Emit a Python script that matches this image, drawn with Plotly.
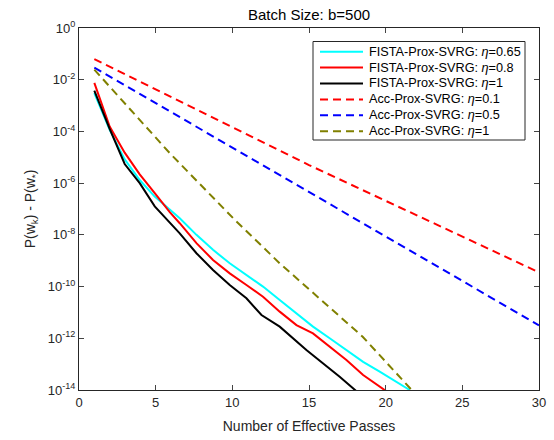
import plotly.graph_objects as go

# FISTA-Prox-SVRG (solid), log10 of P(w_k)-P(w*)
fista065_x = [1, 2, 2.98, 3.96, 4.94, 5.92, 6.57, 7.66, 8.74, 9.83, 10.92, 12.0, 13.09, 14.18, 15.26, 16.35, 17.44, 18.53, 19.61, 20.70, 21.57]
fista065_y = [-2.52, -3.94, -5.08, -5.88, -6.52, -7.03, -7.36, -8.0, -8.58, -9.10, -9.55, -10.0, -10.52, -11.03, -11.55, -12.0, -12.45, -12.91, -13.29, -13.68, -14.0]

fista08_x = [1, 2, 2.98, 3.96, 4.94, 5.92, 6.57, 7.66, 8.74, 9.83, 10.92, 12.0, 13.09, 14.18, 15.26, 16.35, 17.44, 18.53, 20.05]
fista08_y = [-2.12, -3.81, -4.82, -5.66, -6.39, -7.12, -7.55, -8.32, -8.97, -9.49, -9.94, -10.39, -10.97, -11.49, -11.81, -12.33, -12.84, -13.42, -14.05]

fista1_x = [1, 2, 2.98, 3.96, 4.94, 5.92, 6.57, 7.66, 8.74, 9.83, 10.92, 11.90, 13.09, 14.83, 15.92, 17.0, 18.1]
fista1_y = [-2.42, -3.90, -5.26, -6.0, -6.9, -7.55, -7.94, -8.71, -9.36, -9.94, -10.45, -11.10, -11.55, -12.45, -12.97, -13.49, -14.05]

# Acc-Prox-SVRG (dashed)
acc01_x = [1, 15, 30]
acc01_y = [-1.2, -5.3, -9.45]

acc05_x = [1, 15, 30]
acc05_y = [-1.53, -6.35, -11.5]

acc1_x = [1, 5.92, 10.16, 13.09, 18.5, 21.7]
acc1_y = [-1.61, -4.84, -7.42, -9.10, -11.94, -14.0]

ytick_exps = [0, -2, -4, -6, -8, -10, -12, -14]
xtick_vals = [0, 5, 10, 15, 20, 25, 30]

DASH = "8px,5px"
series = [
    ("FISTA-Prox-SVRG: <i>η</i>=0.65", fista065_x, fista065_y, "#00FFFF", "solid"),
    ("FISTA-Prox-SVRG: <i>η</i>=0.8", fista08_x, fista08_y, "#FF0000", "solid"),
    ("FISTA-Prox-SVRG: <i>η</i>=1", fista1_x, fista1_y, "#000000", "solid"),
    ("Acc-Prox-SVRG: <i>η</i>=0.1", acc01_x, acc01_y, "#FF0000", DASH),
    ("Acc-Prox-SVRG: <i>η</i>=0.5", acc05_x, acc05_y, "#0000FF", DASH),
    ("Acc-Prox-SVRG: <i>η</i>=1", acc1_x, acc1_y, "#808000", DASH),
]

W, H = 554, 440
ML, MR, MT, MB = 79, 15, 28, 50
PW, PH = W - ML - MR, H - MT - MB


def px(xp):
    return (xp - ML) / PW


def py(yp):
    return (H - MB - yp) / PH


fig = go.Figure()
for name, xs, ys, col, dash in series:
    fig.add_trace(go.Scatter(
        x=xs, y=[10 ** v for v in ys], mode="lines", name=name, showlegend=False,
        line=dict(color=col, width=2, dash=dash)))

# Manual legend (MATLAB-style compact box)
shapes = [dict(type="rect", xref="paper", yref="paper",
               x0=px(313), x1=px(525), y0=py(140), y1=py(41.5),
               line=dict(color="#262626", width=1), fillcolor="white", layer="above")]
annotations = []
row0, gap = 51.7, 15.9
for i, (name, xs, ys, col, dash) in enumerate(series):
    yy = row0 + i * gap
    shapes.append(dict(type="line", xref="paper", yref="paper",
                       x0=px(320), x1=px(363), y0=py(yy), y1=py(yy),
                       line=dict(color=col, width=2, dash=dash), layer="above"))
    annotations.append(dict(xref="paper", yref="paper", x=px(367), y=py(yy),
                            xanchor="left", yanchor="middle", text=name, showarrow=False,
                            font=dict(size=12.7, color="#000000")))

font = "Liberation Sans, Arial, sans-serif"
fig.update_layout(
    width=W, height=H,
    margin=dict(l=ML, r=MR, t=MT, b=MB),
    paper_bgcolor="white", plot_bgcolor="white",
    font=dict(family=font, size=13, color="#262626"),
    title=dict(text="Batch Size: b=500", x=px(309), xref="paper", xanchor="center",
               y=1 - 15 / H, yanchor="middle", font=dict(size=15, color="#000000")),
    showlegend=False,
    shapes=shapes,
    annotations=annotations,
    xaxis=dict(range=[0, 30], tickvals=xtick_vals, ticks="inside", ticklen=5,
               showline=True, linecolor="#262626", linewidth=1, mirror="ticks",
               showgrid=False, zeroline=False, automargin=False,
               title=dict(text="Number of Effective Passes", font=dict(size=14), standoff=12)),
    yaxis=dict(type="log", range=[-14, 0],
               tickvals=[10 ** e for e in ytick_exps],
               ticktext=["10<sup>%d</sup>" % e for e in ytick_exps],
               ticks="inside", ticklen=5,
               showline=True, linecolor="#262626", linewidth=1, mirror="ticks",
               showgrid=False, zeroline=False, automargin=False,
               title=dict(text="P(w<sub>k</sub>) - P(w<sub>*</sub>)", font=dict(size=14), standoff=8)),
)

fig.write_html("out.html")
